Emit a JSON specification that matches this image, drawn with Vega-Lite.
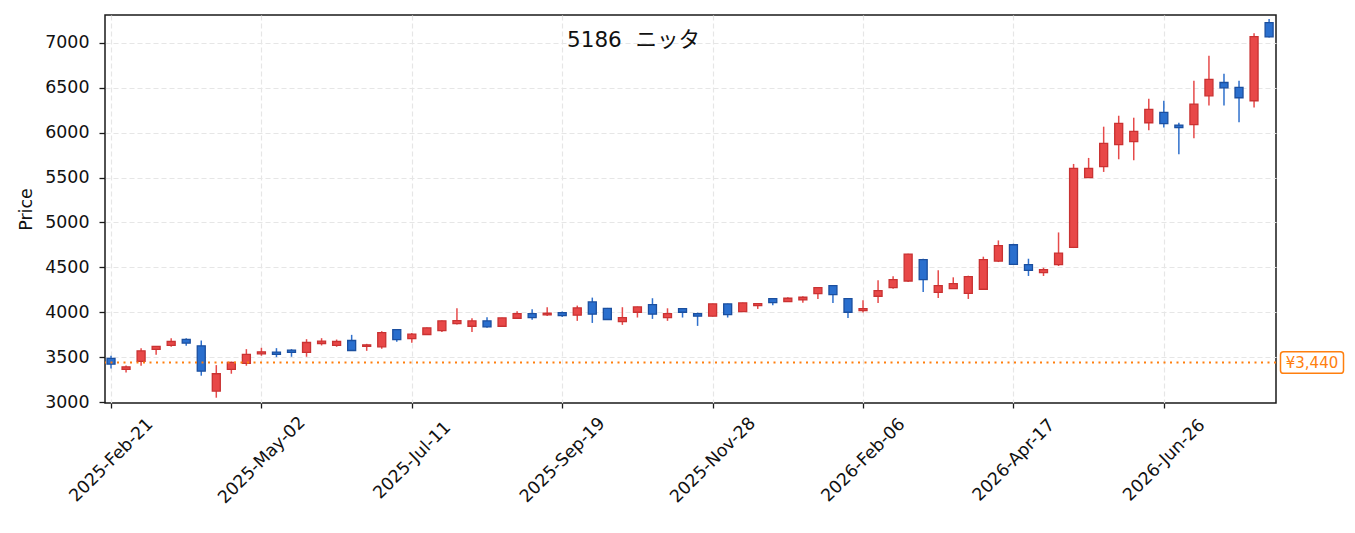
{
  "$schema": "https://vega.github.io/schema/vega-lite/v6.json",
  "width": 1171,
  "height": 388,
  "autosize": {"type": "none"},
  "padding": {"left": 105, "top": 15, "right": 79, "bottom": 130},
  "background": "white",
  "config": {
    "view": {"stroke": "#1a1a1a", "strokeWidth": 1.5},
    "font": "DejaVu Sans"
  },
  "title": {
    "text": "5186\u00a0 ニッタ",
    "font": "DejaVu Sans, Noto Sans CJK JP",
    "fontSize": 21.5,
    "fontWeight": "normal",
    "color": "#111111",
    "anchor": "middle",
    "frame": "group",
    "baseline": "alphabetic",
    "offset": 0,
    "dx": -57,
    "dy": 53
  },
  "data": {
    "values": [
      {"d": "2025-02-21", "o": 3486, "h": 3514, "l": 3374, "c": 3422},
      {"d": "2025-02-28", "o": 3363, "h": 3408, "l": 3330, "c": 3392},
      {"d": "2025-03-07", "o": 3452, "h": 3600, "l": 3404, "c": 3570},
      {"d": "2025-03-14", "o": 3586, "h": 3625, "l": 3526, "c": 3619},
      {"d": "2025-03-21", "o": 3630, "h": 3711, "l": 3615, "c": 3674},
      {"d": "2025-03-28", "o": 3697, "h": 3711, "l": 3626, "c": 3656},
      {"d": "2025-04-04", "o": 3626, "h": 3685, "l": 3293, "c": 3344},
      {"d": "2025-04-11", "o": 3122, "h": 3411, "l": 3048, "c": 3315},
      {"d": "2025-04-18", "o": 3363, "h": 3450, "l": 3315, "c": 3441},
      {"d": "2025-04-25", "o": 3430, "h": 3589, "l": 3404, "c": 3530},
      {"d": "2025-05-02", "o": 3537, "h": 3604, "l": 3515, "c": 3559},
      {"d": "2025-05-09", "o": 3556, "h": 3600, "l": 3500, "c": 3530},
      {"d": "2025-05-16", "o": 3578, "h": 3589, "l": 3504, "c": 3552},
      {"d": "2025-05-23", "o": 3552, "h": 3700, "l": 3504, "c": 3663},
      {"d": "2025-05-30", "o": 3652, "h": 3711, "l": 3630, "c": 3678},
      {"d": "2025-06-06", "o": 3630, "h": 3696, "l": 3615, "c": 3674},
      {"d": "2025-06-13", "o": 3685, "h": 3748, "l": 3570, "c": 3574},
      {"d": "2025-06-20", "o": 3619, "h": 3648, "l": 3570, "c": 3637},
      {"d": "2025-06-27", "o": 3615, "h": 3789, "l": 3593, "c": 3774},
      {"d": "2025-07-04", "o": 3807, "h": 3810, "l": 3670, "c": 3696},
      {"d": "2025-07-11", "o": 3707, "h": 3770, "l": 3659, "c": 3756},
      {"d": "2025-07-18", "o": 3752, "h": 3830, "l": 3748, "c": 3826},
      {"d": "2025-07-25", "o": 3796, "h": 3908, "l": 3781, "c": 3904},
      {"d": "2025-08-01", "o": 3874, "h": 4044, "l": 3863, "c": 3907},
      {"d": "2025-08-08", "o": 3844, "h": 3933, "l": 3781, "c": 3904},
      {"d": "2025-08-15", "o": 3904, "h": 3944, "l": 3826, "c": 3837},
      {"d": "2025-08-22", "o": 3844, "h": 3940, "l": 3840, "c": 3937},
      {"d": "2025-08-29", "o": 3933, "h": 4011, "l": 3926, "c": 3985},
      {"d": "2025-09-05", "o": 3985, "h": 4033, "l": 3915, "c": 3941},
      {"d": "2025-09-12", "o": 3970, "h": 4056, "l": 3959, "c": 3989},
      {"d": "2025-09-19", "o": 3996, "h": 4007, "l": 3948, "c": 3963},
      {"d": "2025-09-26", "o": 3967, "h": 4074, "l": 3904, "c": 4048},
      {"d": "2025-10-03", "o": 4115, "h": 4163, "l": 3881, "c": 3978},
      {"d": "2025-10-10", "o": 4044, "h": 4048, "l": 3915, "c": 3919},
      {"d": "2025-10-17", "o": 3896, "h": 4056, "l": 3859, "c": 3941},
      {"d": "2025-10-24", "o": 4000, "h": 4063, "l": 3941, "c": 4059},
      {"d": "2025-10-31", "o": 4085, "h": 4156, "l": 3926, "c": 3978},
      {"d": "2025-11-07", "o": 3941, "h": 4044, "l": 3904, "c": 3985},
      {"d": "2025-11-14", "o": 4041, "h": 4044, "l": 3941, "c": 4000},
      {"d": "2025-11-21", "o": 3985, "h": 3996, "l": 3848, "c": 3956},
      {"d": "2025-11-28", "o": 3956, "h": 4096, "l": 3952, "c": 4093},
      {"d": "2025-12-05", "o": 4093, "h": 4096, "l": 3941, "c": 3974},
      {"d": "2025-12-12", "o": 4007, "h": 4107, "l": 4004, "c": 4104},
      {"d": "2025-12-19", "o": 4074, "h": 4100, "l": 4037, "c": 4096},
      {"d": "2025-12-26", "o": 4152, "h": 4156, "l": 4078, "c": 4107},
      {"d": "2026-01-02", "o": 4119, "h": 4167, "l": 4115, "c": 4156},
      {"d": "2026-01-09", "o": 4137, "h": 4178, "l": 4107, "c": 4167},
      {"d": "2026-01-16", "o": 4207, "h": 4278, "l": 4148, "c": 4274},
      {"d": "2026-01-23", "o": 4296, "h": 4300, "l": 4104, "c": 4196},
      {"d": "2026-01-30", "o": 4152, "h": 4156, "l": 3937, "c": 4000},
      {"d": "2026-02-06", "o": 4019, "h": 4133, "l": 3996, "c": 4041},
      {"d": "2026-02-13", "o": 4178, "h": 4356, "l": 4104, "c": 4241},
      {"d": "2026-02-20", "o": 4274, "h": 4400, "l": 4263, "c": 4363},
      {"d": "2026-02-27", "o": 4348, "h": 4652, "l": 4337, "c": 4648},
      {"d": "2026-03-06", "o": 4585, "h": 4596, "l": 4226, "c": 4363},
      {"d": "2026-03-13", "o": 4222, "h": 4467, "l": 4159, "c": 4296},
      {"d": "2026-03-20", "o": 4263, "h": 4389, "l": 4259, "c": 4319},
      {"d": "2026-03-27", "o": 4211, "h": 4407, "l": 4148, "c": 4396},
      {"d": "2026-04-03", "o": 4256, "h": 4619, "l": 4252, "c": 4585},
      {"d": "2026-04-10", "o": 4570, "h": 4800, "l": 4559, "c": 4741},
      {"d": "2026-04-17", "o": 4752, "h": 4763, "l": 4530, "c": 4533},
      {"d": "2026-04-24", "o": 4530, "h": 4596, "l": 4404, "c": 4467},
      {"d": "2026-05-01", "o": 4441, "h": 4496, "l": 4404, "c": 4474},
      {"d": "2026-05-08", "o": 4530, "h": 4889, "l": 4515, "c": 4659},
      {"d": "2026-05-15", "o": 4722, "h": 5652, "l": 4715, "c": 5603},
      {"d": "2026-05-22", "o": 5500, "h": 5719, "l": 5496, "c": 5603},
      {"d": "2026-05-29", "o": 5622, "h": 6067, "l": 5563, "c": 5881},
      {"d": "2026-06-05", "o": 5867, "h": 6189, "l": 5704, "c": 6104},
      {"d": "2026-06-12", "o": 5900, "h": 6167, "l": 5693, "c": 6015},
      {"d": "2026-06-19", "o": 6111, "h": 6378, "l": 6026, "c": 6259},
      {"d": "2026-06-26", "o": 6226, "h": 6356, "l": 6059, "c": 6100},
      {"d": "2026-07-03", "o": 6085, "h": 6111, "l": 5759, "c": 6056},
      {"d": "2026-07-10", "o": 6089, "h": 6578, "l": 5937, "c": 6319},
      {"d": "2026-07-17", "o": 6411, "h": 6856, "l": 6304, "c": 6593},
      {"d": "2026-07-24", "o": 6559, "h": 6656, "l": 6304, "c": 6500},
      {"d": "2026-07-31", "o": 6504, "h": 6578, "l": 6115, "c": 6389},
      {"d": "2026-08-07", "o": 6356, "h": 7107, "l": 6281, "c": 7070},
      {"d": "2026-08-14", "o": 7226, "h": 7267, "l": 7060, "c": 7067}
    ]
  },
  "layer": [
    {
      "mark": {"type": "rule", "strokeWidth": 1.5},
      "encoding": {
        "x": {
          "field": "d",
          "type": "temporal",
          "scale": {
            "type": "utc",
            "nice": false,
            "padding": 0,
            "domain": [
              {"year": 2025, "month": "feb", "date": 18, "hours": 4, "minutes": 48, "utc": true},
              {"year": 2026, "month": "aug", "date": 17, "hours": 5, "minutes": 0, "utc": true}
            ]
          },
          "axis": {
            "title": null,
            "format": "%Y-%b-%d",
            "values": [
              {"year": 2025, "month": "feb", "date": 21, "utc": true},
              {"year": 2025, "month": "may", "date": 2, "utc": true},
              {"year": 2025, "month": "jul", "date": 11, "utc": true},
              {"year": 2025, "month": "sep", "date": 19, "utc": true},
              {"year": 2025, "month": "nov", "date": 28, "utc": true},
              {"year": 2026, "month": "feb", "date": 6, "utc": true},
              {"year": 2026, "month": "apr", "date": 17, "utc": true},
              {"year": 2026, "month": "jun", "date": 26, "utc": true}
            ],
            "labelAngle": -45,
            "labelAlign": "center",
            "labelBaseline": "middle",
            "labelPadding": 52,
            "labelFontSize": 17.4,
            "labelFont": "DejaVu Sans",
            "labelColor": "#111111",
            "labelOverlap": false,
            "labelFlush": false,
            "labelBound": false,
            "domain": false,
            "ticks": true,
            "tickSize": 5,
            "tickWidth": 1.3,
            "tickColor": "#1a1a1a",
            "grid": true,
            "gridDash": [5, 3],
            "gridColor": "#e6e6e6",
            "gridWidth": 1.2
          }
        },
        "y": {
          "field": "l",
          "type": "quantitative",
          "scale": {"domain": [2989, 7311], "nice": false, "zero": false, "padding": 0},
          "axis": {
            "title": "Price",
            "titleFontSize": 17.4,
            "titleFontWeight": "normal",
            "titleFont": "DejaVu Sans",
            "titleColor": "#111111",
            "titlePadding": 9,
            "values": [3000, 3500, 4000, 4500, 5000, 5500, 6000, 6500, 7000],
            "format": "d",
            "labelFontSize": 17.4,
            "labelFont": "DejaVu Sans",
            "labelColor": "#111111",
            "labelPadding": 10,
            "domain": false,
            "tickSize": 6,
            "tickWidth": 1.3,
            "tickColor": "#1a1a1a",
            "grid": true,
            "gridDash": [5, 3],
            "gridColor": "#e6e6e6",
            "gridWidth": 1.2,
            "gridOpacity": {"condition": {"test": "datum.value <= 3000", "value": 0}, "value": 1}
          }
        },
        "y2": {"field": "h"},
        "stroke": {
          "condition": {"test": "datum.c >= datum.o", "value": "#e64a4a"},
          "value": "#2f70cc"
        }
      }
    },
    {
      "mark": {"type": "bar", "width": 8, "strokeWidth": 1.3},
      "encoding": {
        "x": {"field": "d", "type": "temporal"},
        "y": {"field": "o", "type": "quantitative"},
        "y2": {"field": "c"},
        "fill": {
          "condition": {"test": "datum.c >= datum.o", "value": "#e84848"},
          "value": "#2a6fce"
        },
        "stroke": {
          "condition": {"test": "datum.c >= datum.o", "value": "#c93232"},
          "value": "#1b4f9f"
        }
      }
    },
    {
      "data": {"values": [{}]},
      "mark": {"type": "rule", "color": "#ff7f0e", "strokeWidth": 2, "strokeDash": [2, 4.5]},
      "encoding": {"y": {"datum": 3440, "type": "quantitative"}}
    },
    {
      "data": {"values": [{}]},
      "mark": {
        "type": "point",
        "shape": "M -0.9 -0.343 L 0.9 -0.343 Q 1 -0.343 1 -0.25 L 1 0.25 Q 1 0.343 0.9 0.343 L -0.9 0.343 Q -1 0.343 -1 0.25 L -1 -0.25 Q -1 -0.343 -0.9 -0.343 Z",
        "size": 3969,
        "filled": true,
        "fill": "white",
        "stroke": "#ff7f0e",
        "strokeWidth": 1.5,
        "opacity": 1,
        "xOffset": 36,
        "clip": false
      },
      "encoding": {
        "x": {"value": "width"},
        "y": {"datum": 3440, "type": "quantitative"}
      }
    },
    {
      "data": {"values": [{}]},
      "mark": {
        "type": "text",
        "text": "¥3,440",
        "font": "DejaVu Sans",
        "fontSize": 15,
        "color": "#ff7f0e",
        "align": "center",
        "baseline": "middle",
        "dx": 36,
        "clip": false
      },
      "encoding": {
        "x": {"value": "width"},
        "y": {"datum": 3440, "type": "quantitative"}
      }
    }
  ]
}
